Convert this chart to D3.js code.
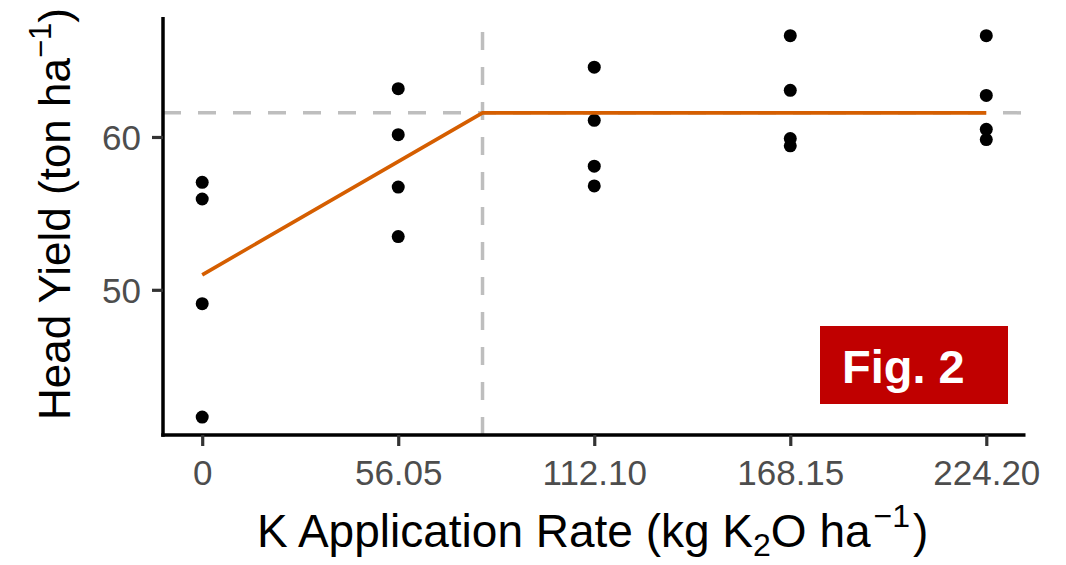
<!DOCTYPE html>
<html>
<head>
<meta charset="utf-8">
<script src="https://cdn.jsdelivr.net/npm/d3@7"></script>
<style>
  html, body { margin: 0; padding: 0; background: #fff; }
  text { font-family: "Liberation Sans", Arial, Helvetica, sans-serif; }
</style>
</head>
<body>
<svg id="chart" width="1066" height="565"></svg>
<script>
// ---- data ----
const rates = [0, 0, 0, 0,
               56.05, 56.05, 56.05, 56.05,
               112.10, 112.10, 112.10, 112.10,
               168.15, 168.15, 168.15, 168.15,
               224.20, 224.20, 224.20, 224.20];
const yields = [57.03, 55.94, 49.09, 41.67,
                63.16, 60.15, 56.72, 53.48,
                64.57, 61.09, 58.09, 56.80,
                66.63, 63.05, 59.90, 59.42,
                66.63, 62.72, 60.50, 59.83];
const fitX = [0, 80.15, 224.20];
const fitY = [50.98, 61.58, 61.58];
const joinX = 80.15;
const plateauY = 61.58;
const xTicks = [0, 56.05, 112.10, 168.15, 224.20];
const xTickLabels = ["0", "56.05", "112.10", "168.15", "224.20"];
const yTicks = [50, 60];
const xDomain = [-11.21, 235.41];
const yDomain = [40.5, 67.85];

// ---- layout ----
const svg = d3.select("#chart");
const L = 163, R = 1025.5, T = 17, B = 435;
const x = d3.scaleLinear().domain(xDomain).range([L, R]);
const y = d3.scaleLinear().domain(yDomain).range([B, T]);

svg.append("rect").attr("width", 1066).attr("height", 565).attr("fill", "#fff");

// reference lines
svg.append("line")
  .attr("x1", x(xDomain[0])).attr("x2", x(xDomain[1]))
  .attr("y1", y(plateauY)).attr("y2", y(plateauY))
  .attr("stroke", "#BEBEBE").attr("stroke-width", 3.5).attr("stroke-dasharray", "18,17");
svg.append("line")
  .attr("x1", x(joinX)).attr("x2", x(joinX))
  .attr("y1", y(yDomain[0])).attr("y2", y(yDomain[1]))
  .attr("stroke", "#BEBEBE").attr("stroke-width", 3.5).attr("stroke-dasharray", "18,17");

// points
svg.append("g").selectAll("circle")
  .data(rates.map((r, i) => [r, yields[i]]))
  .join("circle")
  .attr("cx", d => x(d[0])).attr("cy", d => y(d[1]))
  .attr("r", 6.5).attr("fill", "#000");

// fitted line
const line = d3.line().x(d => x(d[0])).y(d => y(d[1]));
svg.append("path")
  .datum(fitX.map((v, i) => [v, fitY[i]]))
  .attr("d", line)
  .attr("fill", "none").attr("stroke", "#D55E00").attr("stroke-width", 3.6);

// axes
const xAxis = svg.append("g").attr("transform", `translate(0,${B})`)
  .call(d3.axisBottom(x).tickValues(xTicks).tickFormat((d, i) => xTickLabels[i])
    .tickSizeOuter(0).tickSizeInner(11).tickPadding(0));
xAxis.select(".domain").attr("stroke", "#000").attr("stroke-width", 3.5)
  .attr("d", `M${L - 1.75},0H${R}`);
xAxis.selectAll(".tick line").attr("stroke", "#333").attr("stroke-width", 3.2);
xAxis.selectAll(".tick text").attr("y", 50).attr("dy", null)
  .attr("fill", "#4D4D4D").style("font-size", "35px")
  .style("font-family", '"Liberation Sans", Arial, sans-serif');

const yAxis = svg.append("g").attr("transform", `translate(${L},0)`)
  .call(d3.axisLeft(y).tickValues(yTicks).tickFormat(d3.format("d"))
    .tickSizeOuter(0).tickSizeInner(11).tickPadding(0));
yAxis.select(".domain").attr("stroke", "#000").attr("stroke-width", 3.5)
  .attr("d", `M0,${T}V${B + 1.75}`);
yAxis.selectAll(".tick line").attr("stroke", "#333").attr("stroke-width", 3.2);
yAxis.selectAll(".tick text").attr("x", -22).attr("dy", "0.36em")
  .attr("fill", "#4D4D4D").style("font-size", "35px")
  .style("font-family", '"Liberation Sans", Arial, sans-serif');

// axis titles
const xt = svg.append("text")
  .attr("x", 257).attr("y", 547)
  .attr("text-anchor", "start").attr("fill", "#000")
  .style("font-size", "46px");
xt.append("tspan").text("K Application Rate (kg K");
xt.append("tspan").attr("dy", 9).style("font-size", "32px").text("2");
xt.append("tspan").attr("dy", -9).text("O ha");
xt.append("tspan").attr("dy", -20).attr("dx", 3).style("font-size", "32px").text("\u22121");
xt.append("tspan").attr("dy", 20).attr("dx", 3).text(")");

const yt = svg.append("text")
  .attr("transform", `translate(70,${(T + B) / 2 - 12}) rotate(-90)`)
  .attr("text-anchor", "middle").attr("fill", "#000")
  .style("font-size", "44px");
yt.append("tspan").text("Head Yield (ton ha");
yt.append("tspan").attr("dy", -19).style("font-size", "31px").text("\u22121");
yt.append("tspan").attr("dy", 19).text(")");

// Fig. 2 badge
svg.append("rect").attr("x", 820).attr("y", 326).attr("width", 188).attr("height", 78)
  .attr("fill", "#C00000");
svg.append("text").attr("x", 842).attr("y", 383)
  .attr("fill", "#fff").style("font-size", "47px").style("font-weight", "bold")
  .text("Fig. 2");
</script>
</body>
</html>
